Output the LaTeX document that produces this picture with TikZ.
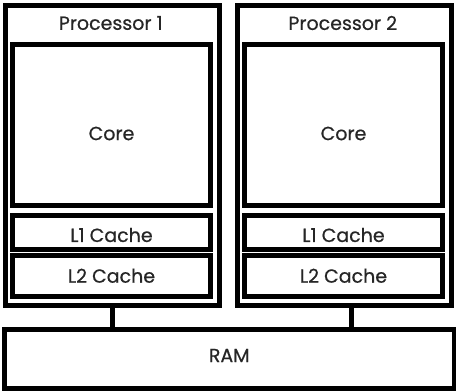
\documentclass[tikz,border=0pt]{standalone}
\usepackage{fontspec}
\setmainfont{Poppins}[FakeBold=0.6]
\usepackage{tikz}

\begin{document}
\begin{tikzpicture}[
        x=0.5pt, y=-0.5pt,
        box/.style={rectangle, draw=black, line width=2.5pt, inner sep=0pt},
        lbl/.style={font=\fontsize{9.5}{11}\selectfont, text=black!85, inner sep=0pt}]

      \useasboundingbox (0,0) rectangle (456,391);

      % two processors with core and caches
      \foreach \n/\x in {1/112.25, 2/344.25} {
        \node[box, minimum width=214pt*0.5, minimum height=150.25pt] (p\n) at (\x,155.25){};
        \node[box, minimum width=99pt, minimum height=80.5pt] (core\n) at (\x-0.75,124.5){};
        \node[box, minimum width=99pt, minimum height=17pt] (lone\n) at (\x-0.75,232){};
        \node[box, minimum width=99pt, minimum height=20.75pt] (ltwo\n) at (\x-0.75,275.75){};

        \node[lbl] (name\n) at (\x-1.5,23){Processor \n};
        \node[lbl] (coretxt\n) at ([yshift=-4.5pt]core\n.center){Core};
        \node[lbl] (lonetxt\n) at ([yshift=-1.5pt]lone\n.center){L1 Cache};
        \node[lbl] (ltwotxt\n) at (ltwo\n.center){L2 Cache};
      }

      \node[box, minimum width=224.75pt, minimum height=29.5pt] (ram) at (229.25,358.5){};
      \node[lbl] (ramtxt) at ([yshift=1.5pt]ram.center){RAM};

      % bus lines down to the memory
      \foreach \p/\x in {p1/112, p2/351.5}
        \draw[line width=2.5pt] (\x,0 |- \p.south) -- (\x,0 |- ram.north);

    \end{tikzpicture}
\end{document}
